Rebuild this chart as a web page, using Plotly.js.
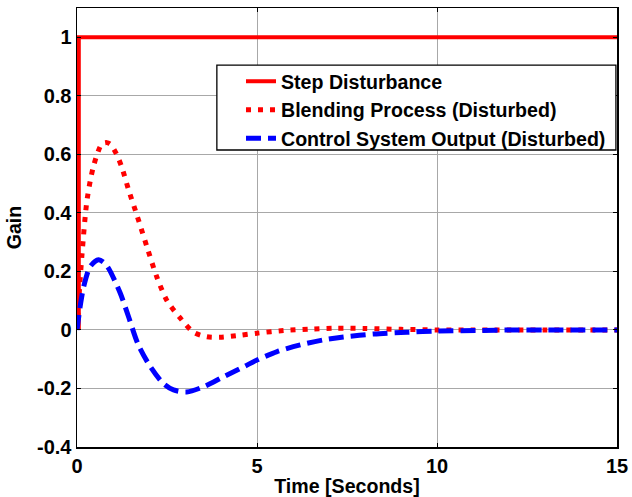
<!DOCTYPE html>
<html>
<head>
<meta charset="utf-8">
<script src="https://cdn.plot.ly/plotly-3.0.1.min.js"></script>
<style>html,body{margin:0;padding:0;background:#fff;}#chart{width:632px;height:497px;}</style>
</head>
<body>
<div id="chart"></div>
<script>
// Step disturbance
const stepT = [0.05, 0.05, 15];
const stepY = [0, 1, 1];

// Blending process (disturbed)
const blendT = [0, 0.07, 0.14, 0.28, 0.46, 0.69, 0.83, 0.93, 1.1, 1.25, 1.43, 1.67, 1.94, 2.22, 2.5, 2.87, 3.24, 3.6, 3.98, 4.54, 5.0, 5.74, 6.48, 7.2, 8, 9, 10, 11, 12, 13, 15];
const blendY = [0, 0.14, 0.26, 0.445, 0.56, 0.635, 0.64, 0.634, 0.6, 0.554, 0.48, 0.39, 0.285, 0.18, 0.10, 0.04, -0.008, -0.023, -0.025, -0.018, -0.011, -0.002, 0.003, 0.006, 0.005, 0.002, 0.0, 0, 0, 0, 0];

// Control system output (disturbed)
const ctrlT = [0, 0.1, 0.19, 0.37, 0.6, 0.75, 0.88, 1.2, 1.43, 1.7, 2.04, 2.4, 2.68, 3.05, 3.52, 4.07, 4.63, 5.0, 5.56, 6.2, 6.85, 7.4, 8.24, 9.17, 10, 11.2, 12.1, 13, 15];
const ctrlY = [0, 0.09, 0.15, 0.217, 0.24, 0.23, 0.21, 0.126, 0.046, -0.05, -0.126, -0.183, -0.205, -0.212, -0.194, -0.16, -0.126, -0.103, -0.074, -0.051, -0.034, -0.024, -0.014, -0.008, -0.004, -0.002, 0, 0, 0];

const xTickVals = [0, 5, 10, 15];
const xTickText = ['0', '5', '10', '15'];
const yTickVals = [-0.4, -0.2, 0, 0.2, 0.4, 0.6, 0.8, 1];
const yTickText = ['-0.4', '-0.2', '0', '0.2', '0.4', '0.6', '0.8', '1'];

const fontFam = 'Liberation Sans, Arial, sans-serif';
const boldFont = (s) => ({family: fontFam, size: s, color: '#000', weight: 'bold'});

const traces = [
  {x: stepT, y: stepY, mode: 'lines', name: 'Step Disturbance',
   line: {color: '#ff0000', width: 4}},
  {x: blendT, y: blendY, mode: 'lines', name: 'Blending Process (Disturbed)',
   line: {color: '#ff0000', width: 5, dash: '5px,7px', shape: 'spline', smoothing: 0.8}},
  {x: ctrlT, y: ctrlY, mode: 'lines', name: 'Control System Output (Disturbed)',
   line: {color: '#0000ff', width: 5, dash: '15px,7px', shape: 'spline', smoothing: 0.8}}
];

const axisCommon = {
  showgrid: true, gridcolor: '#a8a8a8', gridwidth: 1,
  showline: true, linecolor: '#000', linewidth: 1.5, mirror: 'ticks',
  ticks: 'inside', ticklen: 4, tickcolor: '#000', tickwidth: 1,
  zeroline: false, tickfont: boldFont(20)
};

const layout = {
  width: 632, height: 497,
  margin: {l: 77, r: 15, t: 8, b: 50},
  paper_bgcolor: '#fff', plot_bgcolor: '#fff',
  xaxis: Object.assign({}, axisCommon, {
    range: [0, 15], tickmode: 'array', tickvals: xTickVals, ticktext: xTickText,
    title: {text: 'Time [Seconds]', font: boldFont(19.6), standoff: 4}
  }),
  yaxis: Object.assign({}, axisCommon, {
    range: [-0.4, 1.1], tickmode: 'array', tickvals: yTickVals, ticktext: yTickText,
    title: {text: 'Gain', font: boldFont(19.6), standoff: 10}
  }),
  shapes: [
    {type: 'rect', xref: 'paper', yref: 'paper', x0: 0.259, x1: 0.998, y0: 0.6765, y1: 0.870,
     line: {color: '#000', width: 1.3}, fillcolor: '#fff', layer: 'above'}
  ],
  legend: {
    x: 0.3037, xanchor: 'left', y: 0.877, yanchor: 'top',
    bgcolor: 'rgba(0,0,0,0)', borderwidth: 0,
    font: boldFont(19.6), tracegroupgap: 0
  },
  showlegend: true
};

Plotly.newPlot('chart', traces, layout, {staticPlot: true});
</script>
</body>
</html>
